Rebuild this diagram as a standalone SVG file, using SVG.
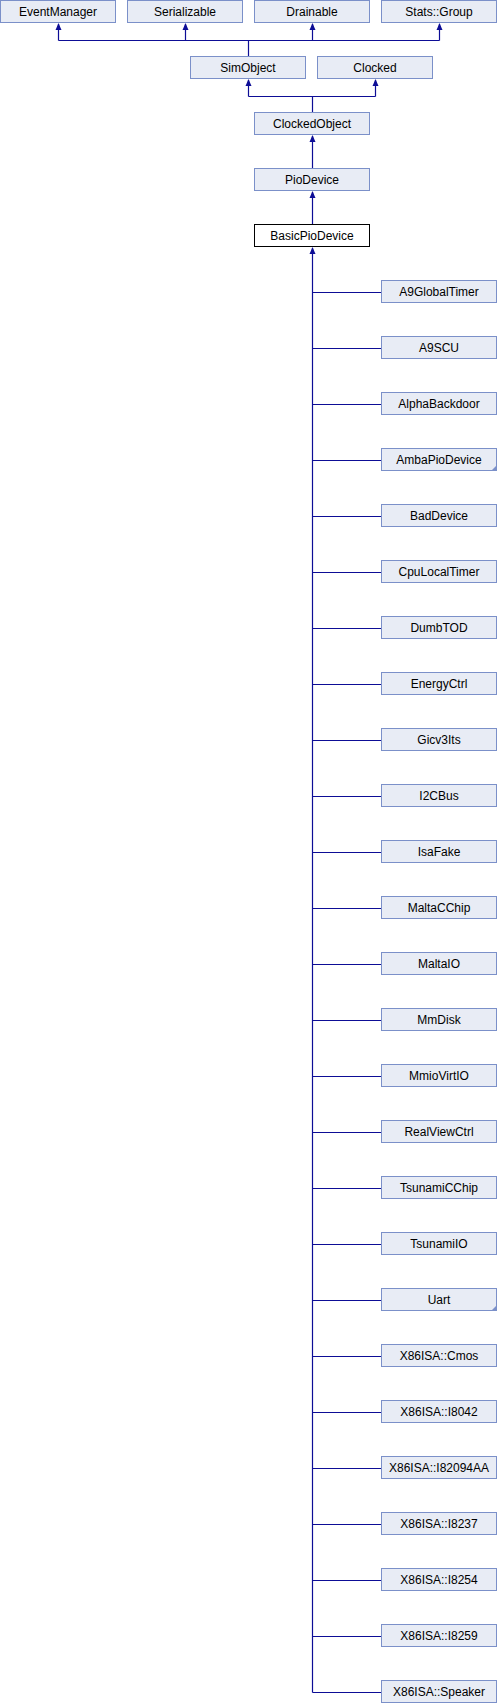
<svg xmlns="http://www.w3.org/2000/svg" xmlns:xlink="http://www.w3.org/1999/xlink" width="498" height="1704" viewBox="0 0 498 1704">
<style>
.n rect{fill:#E8ECF5;stroke:#7B90C9;stroke-width:1}
.cur rect{fill:#FFFFFF;stroke:#000000;stroke-width:1}
text{font-family:"Liberation Sans",Arial,sans-serif;font-size:12px;fill:#000;text-anchor:middle}
.e{fill:none;stroke:#0D0D96;stroke-width:1.2}
.ah{fill:#0D0D96}
.fold{fill:#7B90C9}
</style>
<defs>
<path id="ah" class="ah" d="M0,0 L-3,7 L3,7 Z"/>
</defs>
<rect width="498" height="1704" fill="#FFFFFF"/>
<g id="connectors">
<path class="e" d="M58.5,40.5 H439.5 M58.5,40.5 V24 M185.5,40.5 V24 M312.5,40.5 V24 M439.5,40.5 V24 M248.5,56 V40.5"/>
<use xlink:href="#ah" x="58.5" y="23"/>
<use xlink:href="#ah" x="185.5" y="23"/>
<use xlink:href="#ah" x="312.5" y="23"/>
<use xlink:href="#ah" x="439.5" y="23"/>
<path class="e" d="M248.5,96.5 H375.5 M248.5,96.5 V80 M375.5,96.5 V80 M312.5,112 V96.5"/>
<use xlink:href="#ah" x="248.5" y="79"/>
<use xlink:href="#ah" x="375.5" y="79"/>
<path class="e" d="M312.5,168 V136"/>
<use xlink:href="#ah" x="312.5" y="135"/>
<path class="e" d="M312.5,224 V192"/>
<use xlink:href="#ah" x="312.5" y="191"/>
<path class="e" d="M312.5,1692.5 V248"/>
<use xlink:href="#ah" x="312.5" y="247"/>
<path class="e" d="M312.5,292.5H381 M312.5,348.5H381 M312.5,404.5H381 M312.5,460.5H381 M312.5,516.5H381 M312.5,572.5H381 M312.5,628.5H381 M312.5,684.5H381 M312.5,740.5H381 M312.5,796.5H381 M312.5,852.5H381 M312.5,908.5H381 M312.5,964.5H381 M312.5,1020.5H381 M312.5,1076.5H381 M312.5,1132.5H381 M312.5,1188.5H381 M312.5,1244.5H381 M312.5,1300.5H381 M312.5,1356.5H381 M312.5,1412.5H381 M312.5,1468.5H381 M312.5,1524.5H381 M312.5,1580.5H381 M312.5,1636.5H381 M312.5,1692.5H381"/>
</g>
<g id="EventManager" class="n"><rect x="0.5" y="0.5" width="115" height="22"/><text x="58" y="15.5">EventManager</text></g>
<g id="Serializable" class="n"><rect x="127.5" y="0.5" width="115" height="22"/><text x="185" y="15.5">Serializable</text></g>
<g id="Drainable" class="n"><rect x="254.5" y="0.5" width="115" height="22"/><text x="312" y="15.5">Drainable</text></g>
<g id="StatsGroup" class="n"><rect x="381.5" y="0.5" width="115" height="22"/><text x="439" y="15.5">Stats::Group</text></g>
<g id="SimObject" class="n"><rect x="190.5" y="56.5" width="115" height="22"/><text x="248" y="71.5">SimObject</text></g>
<g id="Clocked" class="n"><rect x="317.5" y="56.5" width="115" height="22"/><text x="375" y="71.5">Clocked</text></g>
<g id="ClockedObject" class="n"><rect x="254.5" y="112.5" width="115" height="22"/><text x="312" y="127.5">ClockedObject</text></g>
<g id="PioDevice" class="n"><rect x="254.5" y="168.5" width="115" height="22"/><text x="312" y="183.5">PioDevice</text></g>
<g id="BasicPioDevice" class="cur"><rect x="254.5" y="224.5" width="115" height="22"/><text x="312" y="239.5">BasicPioDevice</text></g>
<g id="A9GlobalTimer" class="n"><rect x="381.5" y="280.5" width="115" height="22"/><text x="439" y="295.5">A9GlobalTimer</text></g>
<g id="A9SCU" class="n"><rect x="381.5" y="336.5" width="115" height="22"/><text x="439" y="351.5">A9SCU</text></g>
<g id="AlphaBackdoor" class="n"><rect x="381.5" y="392.5" width="115" height="22"/><text x="439" y="407.5">AlphaBackdoor</text></g>
<g id="AmbaPioDevice" class="n"><rect x="381.5" y="448.5" width="115" height="22"/><path class="fold" d="M497,465 V471 H491 Z"/><text x="439" y="463.5">AmbaPioDevice</text></g>
<g id="BadDevice" class="n"><rect x="381.5" y="504.5" width="115" height="22"/><text x="439" y="519.5">BadDevice</text></g>
<g id="CpuLocalTimer" class="n"><rect x="381.5" y="560.5" width="115" height="22"/><text x="439" y="575.5">CpuLocalTimer</text></g>
<g id="DumbTOD" class="n"><rect x="381.5" y="616.5" width="115" height="22"/><text x="439" y="631.5">DumbTOD</text></g>
<g id="EnergyCtrl" class="n"><rect x="381.5" y="672.5" width="115" height="22"/><text x="439" y="687.5">EnergyCtrl</text></g>
<g id="Gicv3Its" class="n"><rect x="381.5" y="728.5" width="115" height="22"/><text x="439" y="743.5">Gicv3Its</text></g>
<g id="I2CBus" class="n"><rect x="381.5" y="784.5" width="115" height="22"/><text x="439" y="799.5">I2CBus</text></g>
<g id="IsaFake" class="n"><rect x="381.5" y="840.5" width="115" height="22"/><text x="439" y="855.5">IsaFake</text></g>
<g id="MaltaCChip" class="n"><rect x="381.5" y="896.5" width="115" height="22"/><text x="439" y="911.5">MaltaCChip</text></g>
<g id="MaltaIO" class="n"><rect x="381.5" y="952.5" width="115" height="22"/><text x="439" y="967.5">MaltaIO</text></g>
<g id="MmDisk" class="n"><rect x="381.5" y="1008.5" width="115" height="22"/><text x="439" y="1023.5">MmDisk</text></g>
<g id="MmioVirtIO" class="n"><rect x="381.5" y="1064.5" width="115" height="22"/><text x="439" y="1079.5">MmioVirtIO</text></g>
<g id="RealViewCtrl" class="n"><rect x="381.5" y="1120.5" width="115" height="22"/><text x="439" y="1135.5">RealViewCtrl</text></g>
<g id="TsunamiCChip" class="n"><rect x="381.5" y="1176.5" width="115" height="22"/><text x="439" y="1191.5">TsunamiCChip</text></g>
<g id="TsunamiIO" class="n"><rect x="381.5" y="1232.5" width="115" height="22"/><text x="439" y="1247.5">TsunamiIO</text></g>
<g id="Uart" class="n"><rect x="381.5" y="1288.5" width="115" height="22"/><path class="fold" d="M497,1305 V1311 H491 Z"/><text x="439" y="1303.5">Uart</text></g>
<g id="X86ISA_Cmos" class="n"><rect x="381.5" y="1344.5" width="115" height="22"/><text x="439" y="1359.5">X86ISA::Cmos</text></g>
<g id="X86ISA_I8042" class="n"><rect x="381.5" y="1400.5" width="115" height="22"/><text x="439" y="1415.5">X86ISA::I8042</text></g>
<g id="X86ISA_I82094AA" class="n"><rect x="381.5" y="1456.5" width="115" height="22"/><text x="439" y="1471.5">X86ISA::I82094AA</text></g>
<g id="X86ISA_I8237" class="n"><rect x="381.5" y="1512.5" width="115" height="22"/><text x="439" y="1527.5">X86ISA::I8237</text></g>
<g id="X86ISA_I8254" class="n"><rect x="381.5" y="1568.5" width="115" height="22"/><text x="439" y="1583.5">X86ISA::I8254</text></g>
<g id="X86ISA_I8259" class="n"><rect x="381.5" y="1624.5" width="115" height="22"/><text x="439" y="1639.5">X86ISA::I8259</text></g>
<g id="X86ISA_Speaker" class="n"><rect x="381.5" y="1680.5" width="115" height="22"/><text x="439" y="1695.5">X86ISA::Speaker</text></g>
</svg>
